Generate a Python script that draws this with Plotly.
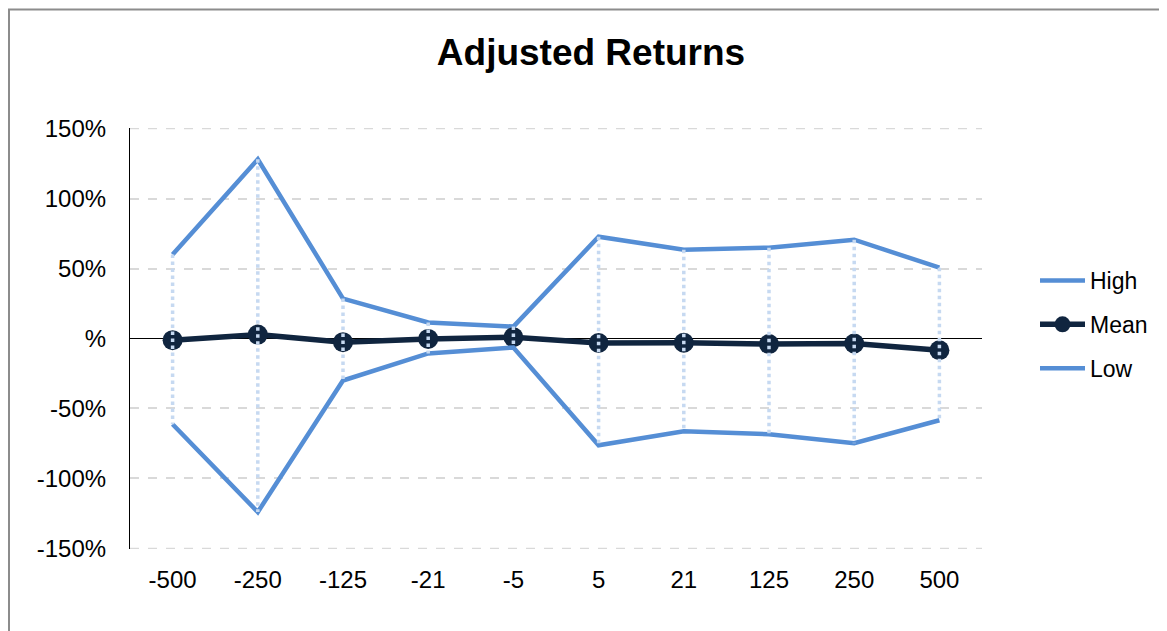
import plotly.graph_objects as go

categories = ["-500", "-250", "-125", "-21", "-5", "5", "21", "125", "250", "500"]
high = [60, 128, 28.5, 11.4, 8.5, 72.7, 63.4, 64.9, 70.6, 50.6]
mean = [-1.2, 2.8, -2.6, -0.3, 0.9, -3.2, -3.0, -4.0, -3.6, -8.4]
low = [-61.3, -124, -30, -10.7, -6.4, -76.3, -66.3, -68.4, -74.8, -58.4]

y_tickvals = [-150, -100, -50, 0, 50, 100, 150]
y_ticktext = ["-150%", "-100%", "-50%", "%", "50%", "100%", "150%"]

LIGHT = "#558ED5"
DARK = "#10253F"
DROP = "#C6D9F1"
GRID = "#D9D9D9"
FONT = "Liberation Sans, Arial, sans-serif"

W, H = 1159, 623
L, R, T, B = 122, 185, 120, 82
PW, PH = W - L - R, H - T - B

fig = go.Figure()
fig.add_trace(go.Scatter(x=categories, y=high, name="High", mode="lines",
                         line=dict(color=LIGHT, width=4.5), legendgroup="h"))
fig.add_trace(go.Scatter(x=categories, y=mean, name="Mean", mode="lines+markers",
                         line=dict(color=DARK, width=5.5),
                         marker=dict(color=DARK, size=20), legendgroup="m"))
fig.add_trace(go.Scatter(x=categories, y=low, name="Low", mode="lines",
                         line=dict(color=LIGHT, width=4.5), legendgroup="l"))

dx, dy = [], []
for c, h, l in zip(categories, high, low):
    dx += [c, c, None]
    dy += [h, l, None]
fig.add_trace(go.Scatter(x=dx, y=dy, mode="lines", showlegend=False,
                         line=dict(color=DROP, width=3.5, dash="dot"),
                         hoverinfo="skip", connectgaps=False))

shapes = [dict(type="rect", xref="paper", yref="paper",
               x0=(1 - L) / PW, x1=1.5, y0=-1, y1=(T + PH - 1.5) / PH,
               line=dict(color="#8C8C8C", width=2), fillcolor="rgba(0,0,0,0)",
               layer="below")]
for yv in (y_tickvals[0], y_tickvals[-1]):
    shapes.append(dict(type="line", xref="paper", yref="y", x0=0, x1=1,
                       y0=yv, y1=yv, layer="below",
                       line=dict(color=GRID, width=1.5, dash="dash")))

fig.update_layout(
    width=W, height=H,
    margin=dict(l=L, r=R, t=T, b=B),
    paper_bgcolor="white", plot_bgcolor="white",
    font=dict(family=FONT, size=24, color="black"),
    title=dict(text="<b>Adjusted Returns</b>", x=583 / W, xref="container",
               xanchor="center", y=1 - 44 / H, yanchor="middle",
               font=dict(family=FONT, size=37, color="black")),
    showlegend=True,
    legend=dict(x=(1027 - L) / PW, xanchor="left", y=(T + PH - 251) / PH,
                yanchor="top", itemwidth=45,
                font=dict(family=FONT, size=23), tracegroupgap=11,
                bgcolor="rgba(0,0,0,0)"),
    xaxis=dict(type="category", range=[-0.5, 9.5], showgrid=False,
               showline=False, ticks="", tickfont=dict(size=24),
               ticklabelstandoff=14, zeroline=False),
    yaxis=dict(range=[-150.4, 150.4], tickvals=y_tickvals, ticktext=y_ticktext,
               showgrid=True, gridcolor=GRID, gridwidth=1.5, griddash="dash",
               zeroline=True, zerolinecolor="black", zerolinewidth=1.2,
               showline=True, linecolor="black", linewidth=1.2,
               ticks="", ticklabelstandoff=18, tickfont=dict(size=24)),
    shapes=shapes,
)

fig.write_html("out.html")
